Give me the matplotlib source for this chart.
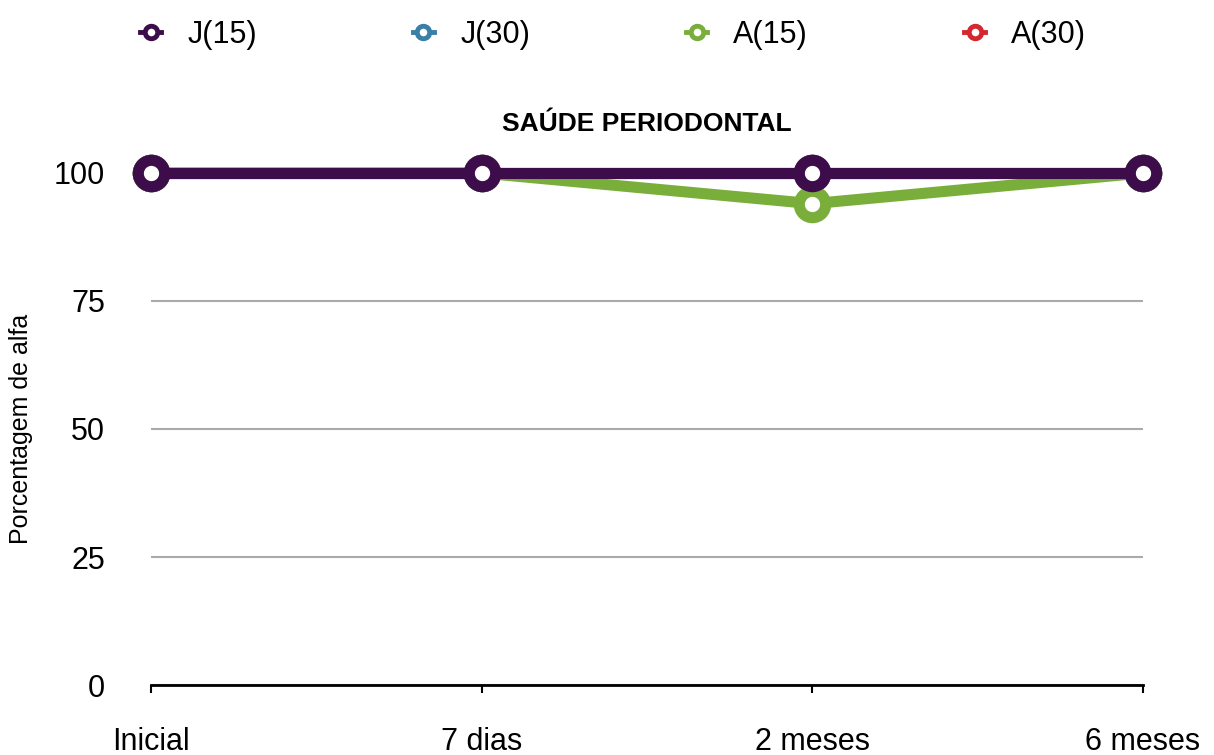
import matplotlib.pyplot as plt
from matplotlib.lines import Line2D

plt.rcParams['font.family'] = ['Liberation Sans', 'DejaVu Sans']

# data
periodos = ["Inicial", "7 dias", "2 meses", "6 meses"]
j15 = [100, 100, 100, 100]
j30 = [100, 100, 100, 100]
a15 = [100, 100, 94, 100]
a30 = [100, 100, 100, 100]

series = [("A(30)", a30, '#d42730'), ("J(30)", j30, '#3a7fa6'),
          ("A(15)", a15, '#7aae3b'), ("J(15)", j15, '#3d0c4a')]
legend_order = ["J(15)", "J(30)", "A(15)", "A(30)"]

fig = plt.figure(figsize=(12.14, 7.55), dpi=100)
ax = fig.add_axes([0.1244, 0.0927, 0.8171, 0.6782])

x = list(range(len(periodos)))
for name, vals, col in series:
    ax.plot(x, vals, color=col, lw=8, marker='o', ms=19, mew=8,
            mfc='white', mec=col, clip_on=False, zorder=3, solid_capstyle='butt')

ax.set_xlim(0, 3)
ax.set_ylim(0, 100)
ax.set_yticks([0, 25, 50, 75, 100])
ax.set_xticks(x)
ax.set_xticklabels(periodos)
ax.yaxis.grid(True, color='#aaaaaa', lw=1.5)
ax.set_axisbelow(True)
for s in ['top', 'right', 'left']:
    ax.spines[s].set_visible(False)
ax.spines['bottom'].set_linewidth(2)
ax.tick_params(axis='x', length=6, width=1.5, pad=24, labelsize=22)
ax.tick_params(axis='y', length=0, pad=33, labelsize=22)
ax.set_ylabel("Porcentagem de alfa", fontsize=18, labelpad=15)
ax.set_title("SAÚDE PERIODONTAL", fontsize=19, fontweight='bold', pad=30)

colors = {n: c for n, _, c in series}
handles = [Line2D([], [], color=colors[n], lw=3.5, marker='o', ms=9, mew=3.5,
                  mfc='white', mec=colors[n]) for n in legend_order]
fig.legend(handles, legend_order, loc='upper center', bbox_to_anchor=(0.505, 1.01),
           ncol=4, frameon=False, fontsize=22, handlelength=0.7,
           columnspacing=5.1, handletextpad=0.85)

fig.savefig("out.png", dpi=100)
